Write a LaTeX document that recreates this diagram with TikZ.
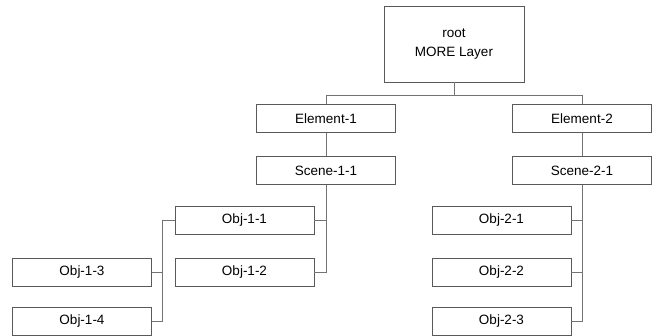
\documentclass[tikz,border=0pt]{standalone}
\usepackage{fontspec}
\setmainfont{Liberation Sans}
\usepackage{tikz}
\usetikzlibrary{calc}

\tikzset{
    item/.style={draw=black!65, line width=0.9pt, fill=white, minimum width=139pt,
        minimum height=28pt, inner sep=0pt, font=\fontsize{13.5}{19}\selectfont},
    link/.style={draw=black!55, line width=0.9pt}
}

\begin{document}
\begin{tikzpicture}[x=1pt, y=-1pt]
    \useasboundingbox (0,0) rectangle (662,336);
    % root and first level
    \node[item, minimum width=140pt, minimum height=76pt, align=center] (root) at (454,44) {root\\MORE Layer};
    \node[item] (el1) at (326,118.5) {Element-1};
    \node[item] (el2) at (582,118.5) {Element-2};
    \node[item] (sc1) at (326,170.5) {Scene-1-1};
    \node[item] (sc2) at (582,170.5) {Scene-2-1};
    % objects
    \node[item] (o11) at (244.5,220) {Obj-1-1};
    \node[item] (o12) at (244.5,272) {Obj-1-2};
    \node[item] (o13) at (82,272) {Obj-1-3};
    \node[item] (o14) at (82,321) {Obj-1-4};
    \node[item] (o21) at (501.5,220) {Obj-2-1};
    \node[item] (o22) at (501.5,272) {Obj-2-2};
    \node[item] (o23) at (501.5,321) {Obj-2-3};
    % connectors
    \draw[link] (root.south) -- ++(0,13) coordinate (rj) -| (el1.north);
    \draw[link] (rj) -| (el2.north);
    \draw[link] (el1) -- (sc1);
    \draw[link] (el2) -- (sc2);
    \draw[link] (sc1.south) |- (o11.east);
    \draw[link] (sc1.south) |- (o12.east);
    \draw[link] (o11.west) -- ++(-12,0) coordinate (oj) |- (o13.east);
    \draw[link] (oj) |- (o14.east);
    \draw[link] (sc2.south) |- (o21.east);
    \draw[link] (sc2.south) |- (o22.east);
    \draw[link] (sc2.south) |- (o23.east);
\end{tikzpicture}
\end{document}
